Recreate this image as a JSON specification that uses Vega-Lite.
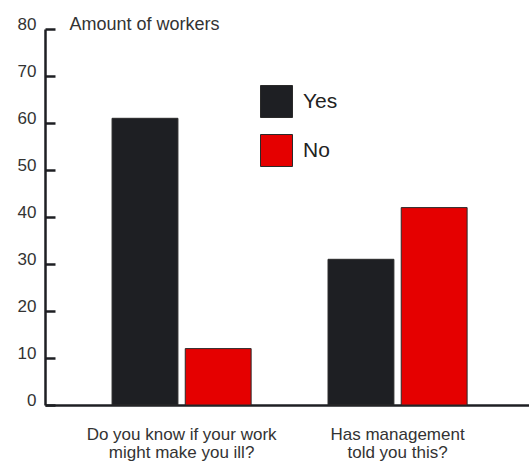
{
  "$schema": "https://vega.github.io/schema/vega-lite/v6.json",
  "width": 484,
  "height": 376,
  "autosize": {"type": "none"},
  "padding": {"left": 45, "top": 29, "right": 0, "bottom": 59},
  "background": "white",
  "config": {
    "view": {"stroke": null},
    "font": "Liberation Sans"
  },
  "data": {
    "values": [
      {"question": "Do you know if your work might make you ill?", "answer": "Yes", "workers": 61},
      {"question": "Do you know if your work might make you ill?", "answer": "No", "workers": 12},
      {"question": "Has management told you this?", "answer": "Yes", "workers": 31},
      {"question": "Has management told you this?", "answer": "No", "workers": 42}
    ]
  },
  "mark": {"type": "bar", "stroke": "#2a2a2a", "strokeWidth": 1},
  "encoding": {
    "x": {
      "field": "question",
      "type": "nominal",
      "sort": null,
      "scale": {"paddingInner": 0.356, "paddingOuter": 0.2985, "align": 0.52},
      "axis": {
        "title": null,
        "labelAngle": 0,
        "ticks": false,
        "domainColor": "#1e1f23",
        "domainWidth": 2.5,
        "labelFontSize": 17,
        "labelColor": "#333333",
        "labelPadding": 21,
        "labelLineHeight": 18,
        "labelLimit": 300,
        "labelExpr": "datum.label == 'Has management told you this?' ? ['Has management', 'told you this?'] : ['Do you know if your work', 'might make you ill?']"
      }
    },
    "xOffset": {
      "field": "answer",
      "type": "nominal",
      "sort": ["Yes", "No"],
      "scale": {"paddingInner": 0.1, "paddingOuter": 0}
    },
    "y": {
      "field": "workers",
      "type": "quantitative",
      "scale": {"domain": [0, 80], "nice": false},
      "axis": {
        "values": [0, 10, 20, 30, 40, 50, 60, 70, 80],
        "grid": false,
        "tickSize": -10,
        "tickWidth": 2.5,
        "tickColor": "#1e1f23",
        "domainColor": "#1e1f23",
        "domainWidth": 2.5,
        "labelPadding": 19,
        "labelFontSize": 17,
        "labelBaseline": "alphabetic",
        "labelColor": "#333333",
        "title": "Amount of workers",
        "titleAngle": 0,
        "titleX": 24,
        "titleY": 0,
        "titleAlign": "left",
        "titleBaseline": "alphabetic",
        "titleFontSize": 18,
        "titleFontWeight": "normal",
        "titleColor": "#333333"
      }
    },
    "fill": {
      "field": "answer",
      "type": "nominal",
      "sort": ["Yes", "No"],
      "scale": {"domain": ["Yes", "No"], "range": ["#1e1f23", "#e50000"]},
      "legend": {
        "title": null,
        "orient": "none",
        "legendX": 215,
        "legendY": 56,
        "symbolType": "square",
        "symbolSize": 1024,
        "symbolStrokeColor": "#2a2a2a",
        "symbolStrokeWidth": 1,
        "symbolOpacity": 1,
        "labelFontSize": 21,
        "labelColor": "#222222",
        "labelOffset": 10,
        "rowPadding": 12
      }
    }
  }
}
